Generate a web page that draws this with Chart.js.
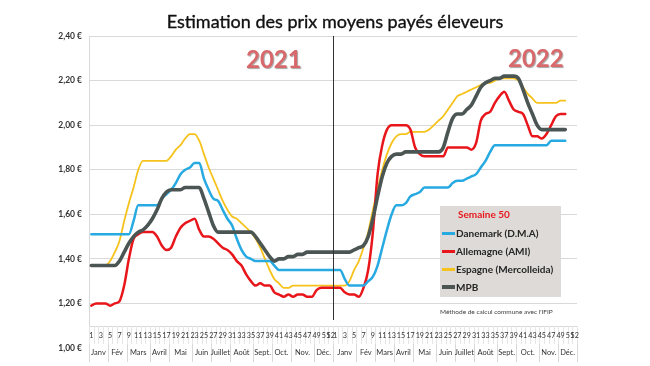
<!DOCTYPE html>
<html><head><meta charset="utf-8">
<script src="https://cdn.jsdelivr.net/npm/chart.js@4.4.0/dist/chart.umd.min.js"></script>
<style>
body{margin:0;background:#fff;}
#wrap{position:relative;width:650px;height:366px;overflow:hidden;font-family:Lato,'Open Sans',sans-serif;}
#c{position:absolute;left:0;top:0;}
.abs{position:absolute;white-space:nowrap;}
#title{left:0;width:670px;top:10px;text-align:center;font-size:18px;color:#111;line-height:22px;-webkit-text-stroke:0.35px #111;}
.year{font-weight:bold;font-size:24px;color:#d9686b;text-shadow:1px 1px 1px rgba(0,0,0,0.35);line-height:24px;}
#leg{left:440px;top:206px;width:121px;height:91px;background:#dddad7;}
.lt{font-weight:bold;font-size:10px;color:#262626;line-height:12px;}
.sw{position:absolute;width:13px;}
#note{left:440px;top:307px;font-size:6.5px;color:#404040;line-height:9px;}
</style></head>
<body><div id="wrap">
<canvas id="c" width="650" height="366"></canvas>
<div id="title" class="abs">Estimation des prix moyens payés éleveurs</div>
<div class="abs year" style="left:246px;top:47px;">2021</div>
<div class="abs year" style="left:508px;top:46px;">2022</div>
<div id="leg" class="abs"></div>
<div id="note" class="abs">Méthode de calcul commune avec l'IFIP</div>
</div>
<script>
// Categories
const weeks2021 = [1,2,3,4,5,6,7,8,9,10,11,12,13,14,15,16,17,18,19,20,21,22,23,24,25,26,27,28,29,30,31,32,33,34,35,36,37,38,39,40,41,42,43,44,45,46,47,48,49,50,51,52];
const weeks2022 = [1,2,3,4,5,6,7,8,9,10,11,12,13,14,15,16,17,18,19,20,21,22,23,24,25,26,27,28,29,30,31,32,33,34,35,36,37,38,39,40,41,42,43,44,45,46,47,48,49,50,51,52];
const monthNames = ["Janv","Fév","Mars","Avril","Mai","Juin","Juillet","Août","Sept.","Oct.","Nov.","Déc."];
const monthWeeks2021 = [4,4,5,4,5,4,4,5,4,4,5,4];
const monthWeeks2022 = [5,4,4,4,5,4,4,5,4,5,4,4];
const yTicks = [1.00,1.20,1.40,1.60,1.80,2.00,2.20,2.40];

// Series (€/kg), week 1 2021 .. week 50 2022
const danemark2021 = [1.51,1.51,1.51,1.51,1.51,1.51,1.51,1.51,1.51,1.57,1.64,1.64,1.64,1.64,1.64,1.67,1.69,1.71,1.74,1.78,1.80,1.81,1.83,1.83,1.76,1.71,1.67,1.66,1.62,1.58,1.55,1.49,1.44,1.41,1.40,1.39,1.39,1.39,1.39,1.37,1.35,1.35,1.35,1.35,1.35,1.35,1.35,1.35,1.35,1.35,1.35,1.35];
const danemark2022 = [1.35,1.35,1.31,1.28,1.28,1.28,1.28,1.30,1.32,1.37,1.45,1.53,1.60,1.64,1.64,1.65,1.68,1.69,1.70,1.72,1.72,1.72,1.72,1.72,1.72,1.74,1.75,1.75,1.76,1.77,1.78,1.81,1.84,1.88,1.91,1.91,1.91,1.91,1.91,1.91,1.91,1.91,1.91,1.91,1.91,1.91,1.93,1.93,1.93,1.93];
const allemagne2021 = [1.19,1.20,1.20,1.20,1.19,1.20,1.21,1.28,1.40,1.49,1.51,1.52,1.52,1.52,1.50,1.46,1.44,1.45,1.50,1.54,1.56,1.57,1.58,1.53,1.50,1.50,1.49,1.47,1.45,1.44,1.42,1.39,1.37,1.33,1.30,1.28,1.29,1.28,1.28,1.25,1.24,1.23,1.24,1.23,1.24,1.24,1.23,1.23,1.26,1.27,1.27,1.27];
const allemagne2022 = [1.27,1.27,1.25,1.24,1.24,1.23,1.27,1.35,1.52,1.78,1.91,1.98,2.00,2.00,2.00,2.00,1.98,1.90,1.87,1.86,1.86,1.86,1.86,1.86,1.90,1.90,1.90,1.90,1.90,1.89,1.92,2.02,2.05,2.06,2.10,2.13,2.15,2.11,2.07,2.06,2.05,2.00,1.95,1.95,1.94,1.96,2.00,2.04,2.05,2.05];
const espagne2021 = [1.37,1.37,1.37,1.37,1.39,1.43,1.48,1.57,1.65,1.72,1.80,1.84,1.84,1.84,1.84,1.84,1.84,1.86,1.89,1.91,1.94,1.96,1.96,1.93,1.87,1.81,1.76,1.71,1.66,1.62,1.59,1.58,1.56,1.54,1.52,1.49,1.45,1.40,1.35,1.31,1.29,1.27,1.27,1.28,1.28,1.28,1.28,1.28,1.28,1.28,1.28,1.28];
const espagne2022 = [1.28,1.28,1.28,1.30,1.35,1.39,1.45,1.52,1.62,1.71,1.80,1.87,1.92,1.95,1.96,1.96,1.97,1.97,1.97,1.97,1.98,2.00,2.02,2.04,2.07,2.10,2.13,2.14,2.15,2.16,2.17,2.18,2.19,2.19,2.20,2.21,2.21,2.21,2.21,2.20,2.17,2.14,2.12,2.10,2.10,2.10,2.10,2.10,2.11,2.11];
const mpb2021 = [1.37,1.37,1.37,1.37,1.37,1.37,1.39,1.43,1.47,1.50,1.52,1.53,1.55,1.58,1.62,1.67,1.70,1.71,1.71,1.71,1.72,1.72,1.72,1.72,1.67,1.61,1.55,1.52,1.52,1.52,1.52,1.52,1.52,1.52,1.52,1.50,1.47,1.44,1.41,1.39,1.40,1.40,1.41,1.41,1.42,1.42,1.43,1.43,1.43,1.43,1.43,1.43];
const mpb2022 = [1.43,1.43,1.43,1.43,1.44,1.45,1.46,1.50,1.58,1.68,1.77,1.83,1.86,1.87,1.87,1.88,1.88,1.88,1.88,1.88,1.88,1.88,1.88,1.90,1.97,2.03,2.05,2.05,2.07,2.09,2.13,2.17,2.19,2.20,2.21,2.21,2.22,2.22,2.22,2.21,2.16,2.10,2.05,2.00,1.98,1.98,1.98,1.98,1.98,1.98];

const seriesNames = ["Danemark (D.M.A)","Allemagne (AMI)","Espagne (Mercolleida)","MPB"];
const seriesColors = ["#27a9e1","#e8161b","#f6c21c","#4b5553"];
const seriesWidths = [2.5,2.5,1.8,3.6];

const labels = weeks2021.map(w=>"2021-S"+w).concat(weeks2022.map(w=>"2022-S"+w));
const weekNums = weeks2021.concat(weeks2022);
function full(a,b){ const r=a.concat(b); while(r.length<labels.length) r.push(null); return r; }
const seriesData = [full(danemark2021,danemark2022), full(allemagne2021,allemagne2022), full(espagne2021,espagne2022), full(mpb2021,mpb2022)];
const drawOrder = [1,2,3,0];

// Legend (HTML)
const leg = document.getElementById('leg');
let h = '<div class="abs lt" style="left:18px;top:2px;color:#e8161b;">Semaine 50</div>';
seriesNames.forEach((n,i)=>{
  const top = 21 + i*18;
  const th = i===3 ? 4 : 3;
  h += '<div class="sw" style="left:2px;top:'+(top+6-th/2)+'px;height:'+th+'px;background:'+seriesColors[i]+'"></div>';
  h += '<div class="abs lt" style="left:16px;top:'+top+'px;">'+n+'</div>';
});
leg.innerHTML = h;

const tablePlugin = {
  id:'tablePlugin',
  afterDatasetsDraw(chart){
    const ctx = chart.ctx, x = chart.scales.x, ca = chart.chartArea;
    const xd = (x.getPixelForValue(51)+x.getPixelForValue(52))/2;
    ctx.save();
    ctx.strokeStyle = '#333'; ctx.lineWidth = 1;
    ctx.beginPath(); ctx.moveTo(Math.round(xd)+0.5, ca.top); ctx.lineTo(Math.round(xd)+0.5, 320); ctx.stroke();
    ctx.restore();
  },
  afterDraw(chart){
    const ctx = chart.ctx, x = chart.scales.x, ca = chart.chartArea;
    const cw = x.getPixelForValue(1)-x.getPixelForValue(0);
    const top = 326, mid = 344, bot = 362;
    ctx.save();
    ctx.fillStyle = '#fff';
    ctx.fillRect(ca.left+1, top, ca.right-ca.left, bot-top);
    ctx.strokeStyle = '#d9d9d9'; ctx.lineWidth = 1;
    ctx.beginPath(); ctx.moveTo(ca.left, top+0.5); ctx.lineTo(ca.right, top+0.5); ctx.stroke();
    ctx.strokeStyle = '#e6e6e6';
    for(let k=0;k<=labels.length;k++){
      const px = Math.round(x.getPixelForValue(0) - cw/2 + k*cw)+0.5;
      ctx.beginPath(); ctx.moveTo(px, top); ctx.lineTo(px, mid); ctx.stroke();
    }
    ctx.strokeStyle = '#d9d9d9';
    const groups = monthWeeks2021.concat(monthWeeks2022);
    const names = monthNames.concat(monthNames);
    let start = 0;
    ctx.font = '7.5px Lato'; ctx.fillStyle = '#333'; ctx.textAlign='center'; ctx.textBaseline='middle';
    groups.forEach((g,gi)=>{
      const x0 = x.getPixelForValue(start) - cw/2;
      const x1 = x.getPixelForValue(start+g-1) + cw/2;
      ctx.beginPath(); ctx.moveTo(Math.round(x0)+0.5, mid); ctx.lineTo(Math.round(x0)+0.5, bot); ctx.stroke();
      ctx.fillText(names[gi], (x0+x1)/2, 352.5);
      start += g;
    });
    const xe = Math.round(x.getPixelForValue(labels.length-1)+cw/2)+0.5;
    ctx.beginPath(); ctx.moveTo(xe, mid); ctx.lineTo(xe, bot); ctx.stroke();
    ctx.font = '7.2px Lato';
    weekNums.forEach((w,i)=>{
      if(w%2===1 || w===52) ctx.fillText(String(w), x.getPixelForValue(i), 335.5);
    });
    ctx.restore();
  }
};

new Chart(document.getElementById('c'), {
  type:'line',
  data:{
    labels: labels,
    datasets: seriesNames.map((n,i)=>({
      label:n, data:seriesData[i], borderColor:seriesColors[i], backgroundColor:seriesColors[i],
      borderWidth:seriesWidths[i], pointRadius:0, cubicInterpolationMode:'monotone', fill:false,
      order:drawOrder[i], borderCapStyle:'round', borderJoinStyle:'round'
    }))
  },
  options:{
    responsive:false, animation:false,
    layout:{padding:{top:36,right:73,bottom:18,left:0}},
    plugins:{legend:{display:false}, title:{display:false}, tooltip:{enabled:false}},
    scales:{
      x:{display:false, offset:true},
      y:{min:1, max:2.4,
         afterFit(s){ s.width = 89; },
         afterBuildTicks(s){ s.ticks = yTicks.map(v=>({value:v})); },
         grid:{color:'#d9d9d9', drawTicks:false},
         border:{display:true, color:'#d9d9d9'},
         ticks:{padding:7, color:'#333', font:{family:'Lato', size:8.5, weight:'bold'},
                callback:(v)=>Number(v).toFixed(2).replace('.',',')+' €'}
      }
    }
  },
  plugins:[tablePlugin]
});
</script>
</body></html>
